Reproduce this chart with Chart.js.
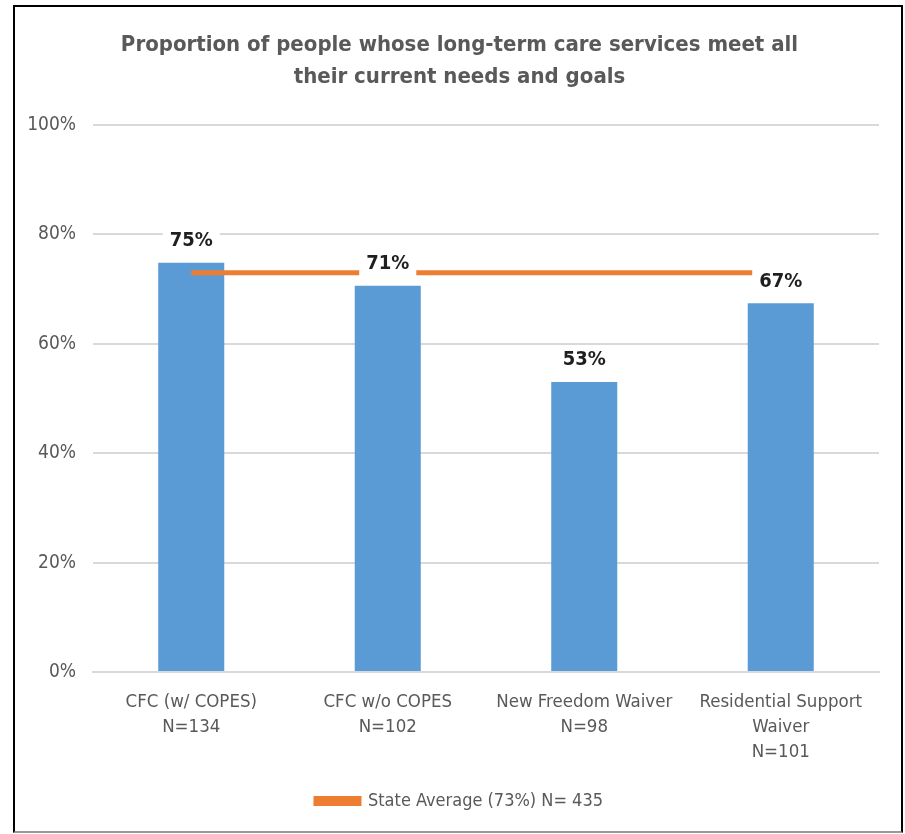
<!DOCTYPE html>
<html>
<head>
<meta charset="utf-8">
<script src="https://cdn.jsdelivr.net/npm/chart.js@4.4.0/dist/chart.umd.min.js"></script>
<style>
    html, body { margin: 0; padding: 0; background: #fff; }
    #wrap { position: relative; width: 905px; height: 834px; }
    #frame {
        position: absolute; left: 13px; top: 5px; width: 890px; height: 828px;
        box-sizing: border-box; border: 2px solid #000; border-bottom-color: #999;
    }
    #chart { position: absolute; left: 0; top: 0; }
</style>
</head>
<body>
<div id="wrap">
    <div id="frame"></div>
    <canvas id="chart" width="905" height="834"></canvas>
</div>
<script>
const FONT = "'Liberation Sans Narrow', 'Arial Narrow', 'DejaVu Sans Condensed', sans-serif";

const categories = [
    ["CFC (w/ COPES)", "N=134"],
    ["CFC w/o COPES", "N=102"],
    ["New Freedom Waiver", "N=98"],
    ["Residential Support", "Waiver", "N=101"]
];
const programValues = [74.8, 70.6, 53.0, 67.4];
const stateAverage = [73, 73, 73, 73];
const yTicks = [0, 20, 40, 60, 80, 100];
const titleLines = [
    "Proportion of people whose long-term care services meet all",
    "their current needs and goals"
];
const legendText = "State Average (73%) N= 435";

// bold % labels above the bars, with a white box behind them
const barLabels = {
    id: "barLabels",
    afterDatasetsDraw(chart) {
        const ctx = chart.ctx;
        const meta = chart.getDatasetMeta(1);
        ctx.save();
        ctx.font = "bold 20px " + FONT;
        ctx.textAlign = "center";
        ctx.textBaseline = "middle";
        meta.data.forEach((bar, i) => {
            const txt = Math.round(programValues[i]) + "%";
            const w = ctx.measureText(txt).width + 14;
            const cy = bar.y - 23;
            ctx.fillStyle = "#fff";
            ctx.fillRect(bar.x - w / 2, cy - 14, w, 28);
            ctx.fillStyle = "#1f1f1f";
            ctx.fillText(txt, bar.x, cy + 1);
        });
        ctx.restore();
    }
};

new Chart(document.getElementById("chart"), {
    data: {
        labels: categories,
        datasets: [
            {
                type: "line",
                label: legendText,
                data: stateAverage,
                borderColor: "#ED7D31",
                backgroundColor: "#ED7D31",
                borderWidth: 5,
                pointRadius: 0,
                order: 0
            },
            {
                type: "bar",
                label: "Programs",
                data: programValues,
                backgroundColor: "#5B9BD5",
                categoryPercentage: 1,
                barPercentage: 0.336,
                order: 1
            }
        ]
    },
    options: {
        responsive: false,
        animation: false,
        layout: { padding: { left: 14, right: 0, top: 0, bottom: 14 } },
        plugins: {
            title: {
                display: true,
                text: titleLines,
                color: "#595959",
                font: { family: FONT, size: 22, weight: "bold", lineHeight: 32 / 22 },
                padding: { top: 29, bottom: 32 }
            },
            legend: {
                position: "bottom",
                labels: {
                    color: "#595959",
                    font: { family: FONT, size: 18 },
                    boxWidth: 43,
                    boxHeight: 5,
                    padding: 10,
                    filter: item => item.datasetIndex === 0
                }
            },
            tooltip: { enabled: false }
        },
        scales: {
            x: {
                grid: { display: false, drawTicks: false },
                border: { color: "#d9d9d9", width: 2 },
                ticks: {
                    color: "#595959",
                    font: { family: FONT, size: 18.5, lineHeight: 25 / 18.5 },
                    padding: 18,
                    maxRotation: 0,
                    autoSkip: false
                },
                afterFit(scale) { scale.height = 110; }
            },
            y: {
                min: 0,
                max: 100,
                afterBuildTicks(scale) { scale.ticks = yTicks.map(v => ({ value: v })); },
                grid: { color: "#d9d9d9", lineWidth: 2, drawTicks: false },
                border: { display: false },
                ticks: {
                    color: "#595959",
                    font: { family: FONT, size: 19 },
                    padding: 17,
                    callback: v => v + "%"
                },
                afterFit(scale) { scale.width = 79; }
            },
            // empty right-hand strip so the plot ends where the reference ends
            yRight: {
                position: "right",
                min: 0,
                max: 100,
                grid: { display: false, drawTicks: false },
                border: { display: false },
                ticks: { display: false },
                afterFit(scale) { scale.width = 26; }
            }
        }
    },
    plugins: [barLabels]
});
</script>
</body>
</html>
